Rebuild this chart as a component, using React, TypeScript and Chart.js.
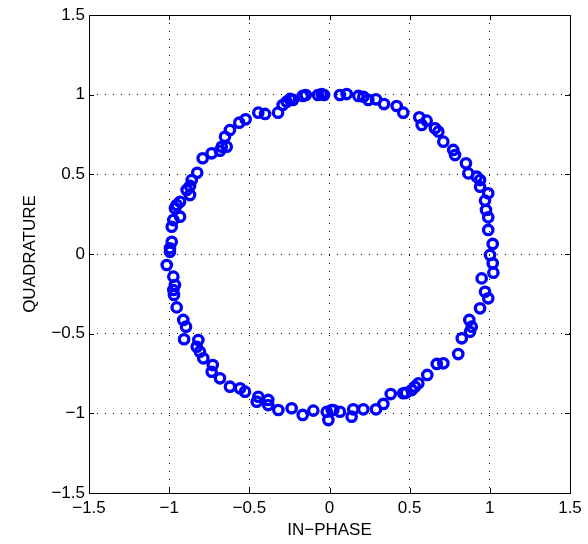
import React, { useEffect, useRef } from "react";
import { Chart, registerables } from "chart.js";

Chart.register(...registerables);

const inPhase: number[] = [
  1.001, 1.018, 0.99, 0.99, 0.976, 0.97, 0.99, 0.939, 0.939, 0.918, 0.866, 0.851, 0.783, 0.772, 0.71, 0.679, 0.658, 0.606, 0.575, 0.56, 0.46, 0.419, 0.34, 0.29, 0.242, 0.211, 0.18, 0.107, 0.065, -0.034,
  -0.049, -0.072, -0.148, -0.167, -0.228, -0.246, -0.267, -0.292, -0.321, -0.402, -0.444, -0.523, -0.563, -0.621, -0.652, -0.641, -0.672, -0.683, -0.735, -0.791, -0.825, -0.859, -0.87, -0.891, -0.87, -0.932, -0.953, -0.964, -0.932, -0.974, -0.984, -0.984, -0.995,
  -0.995, -1.015, -0.974, -0.964, -0.974, -0.97, -0.953, -0.912, -0.895, -0.907, -0.818, -0.828, -0.808, -0.787, -0.728, -0.735, -0.683, -0.621, -0.558, -0.527, -0.444, -0.454, -0.382, -0.382, -0.319, -0.236, -0.167, -0.101, -0.007, -0.017, 0.014,
  0.024, 0.065, 0.138, 0.148, 0.211, 0.29, 0.336, 0.382, 0.46, 0.477, 0.513, 0.533, 0.554, 0.61, 0.669, 0.71, 0.803, 0.825, 0.876, 0.887, 0.872, 0.939, 0.99, 0.97, 0.949, 1.022, 1.018,
];

const quadrature: number[] = [
  -0.006, 0.063, 0.151, 0.23, 0.276, 0.335, 0.381, 0.422, 0.464, 0.485, 0.506, 0.569, 0.621, 0.653, 0.705, 0.768, 0.789, 0.837, 0.81, 0.858, 0.887, 0.929, 0.941, 0.971, 0.967, 0.987, 0.992, 1.004, 0.998, 0.998,
  1.004, 0.998, 0.998, 0.992, 0.967, 0.973, 0.956, 0.935, 0.887, 0.879, 0.887, 0.845, 0.824, 0.778, 0.736, 0.673, 0.673, 0.648, 0.632, 0.601, 0.51, 0.464, 0.427, 0.402, 0.37, 0.328, 0.308, 0.287, 0.234, 0.213, 0.171, 0.077, 0.036,
  0.014, -0.069, -0.142, -0.195, -0.226, -0.257, -0.335, -0.414, -0.456, -0.535, -0.54, -0.582, -0.613, -0.655, -0.697, -0.739, -0.78, -0.833, -0.843, -0.864, -0.896, -0.927, -0.916, -0.948, -0.979, -0.968, -1.01, -0.983, -1.042, -0.99, -0.979,
  -0.979, -0.99, -1.021, -0.975, -0.975, -0.975, -0.941, -0.879, -0.874, -0.871, -0.854, -0.833, -0.812, -0.759, -0.69, -0.686, -0.628, -0.529, -0.488, -0.456, -0.414, -0.341, -0.278, -0.237, -0.153, -0.117, -0.058,
];

const axisMin = -1.5;
const axisMax = 1.5;
const tickStep = 0.5;
const xTitle = "IN\u2212PHASE";
const yTitle = "QUADRATURE";

const FONT = "'Liberation Sans', Arial, Helvetica, sans-serif";

const fmt = (v: number | string) => {
  const n = typeof v === "number" ? v : parseFloat(v);
  const s = String(Math.round(n * 100) / 100);
  return s.replace("-", "\u2212");
};

const boxPlugin = {
  id: "matlabBox",
  afterDatasetsDraw(chart: any) {
    const { ctx, chartArea, scales } = chart;
    const { left, right, top, bottom } = chartArea;
    ctx.save();
    ctx.strokeStyle = "#000";
    ctx.lineWidth = 1;
    ctx.setLineDash([]);
    const tl = 5;
    ctx.beginPath();
    scales.x.ticks.forEach((t: any) => {
      const px = Math.round(scales.x.getPixelForValue(t.value)) + 0.5;
      ctx.moveTo(px, bottom);
      ctx.lineTo(px, bottom - tl);
      ctx.moveTo(px, top);
      ctx.lineTo(px, top + tl);
    });
    scales.y.ticks.forEach((t: any) => {
      const py = Math.round(scales.y.getPixelForValue(t.value)) + 0.5;
      ctx.moveTo(left, py);
      ctx.lineTo(left + tl, py);
      ctx.moveTo(right, py);
      ctx.lineTo(right - tl, py);
    });
    ctx.stroke();
    ctx.strokeRect(Math.round(left) + 0.5, Math.round(top) + 0.5, Math.round(right - left), Math.round(bottom - top));
    ctx.restore();
  },
};

export default function App() {
  const ref = useRef<HTMLCanvasElement | null>(null);
  useEffect(() => {
    if (!ref.current) return;
    const points = inPhase.map((x, i) => ({ x, y: quadrature[i] }));
    const chart = new Chart(ref.current, {
      type: "scatter",
      data: {
        datasets: [
          {
            data: points,
            pointStyle: "circle",
            pointRadius: 4.7,
            pointHoverRadius: 4.7,
            borderColor: "#0000ff",
            backgroundColor: "rgba(0,0,0,0)",
            borderWidth: 3.3,
            pointBorderWidth: 3.3,
          },
        ],
      },
      options: {
        responsive: false,
        animation: false,
        devicePixelRatio: 1,
        layout: { padding: { top: 15, right: 18, left: 0, bottom: 0 } },
        plugins: { legend: { display: false }, tooltip: { enabled: false } },
        scales: {
          x: {
            type: "linear",
            min: axisMin,
            max: axisMax,
            afterFit: (s: any) => {
              s.height = 51;
            },
            ticks: {
              stepSize: tickStep,
              autoSkip: false,
              maxRotation: 0,
              padding: 5,
              color: "#000",
              font: { family: FONT, size: 17 },
              callback: (v: any) => fmt(v),
            },
            grid: { color: "#000", lineWidth: 1, drawTicks: false },
            border: { display: false, dash: [1, 7] },
            title: {
              display: true,
              text: xTitle,
              color: "#000",
              font: { family: FONT, size: 17 },
              padding: { top: 0, bottom: 3 },
            },
          },
          y: {
            type: "linear",
            min: axisMin,
            max: axisMax,
            afterFit: (s: any) => {
              s.width = 89;
            },
            ticks: {
              stepSize: tickStep,
              autoSkip: false,
              padding: 4,
              color: "#000",
              font: { family: FONT, size: 17 },
              callback: (v: any) => fmt(v),
            },
            grid: { color: "#000", lineWidth: 1, drawTicks: false },
            border: { display: false, dash: [1, 7] },
            title: {
              display: true,
              text: yTitle,
              color: "#000",
              font: { family: FONT, size: 17 },
              padding: { top: 20, bottom: 0 },
            },
          },
        },
      },
      plugins: [boxPlugin],
    });
    return () => chart.destroy();
  }, []);
  return (
    <div style={{ position: "absolute", left: 0, top: 0, width: 588, height: 544, background: "#fff" }}>
      <canvas ref={ref} width={588} height={544} style={{ width: 588, height: 544, display: "block" }} />
    </div>
  );
}
